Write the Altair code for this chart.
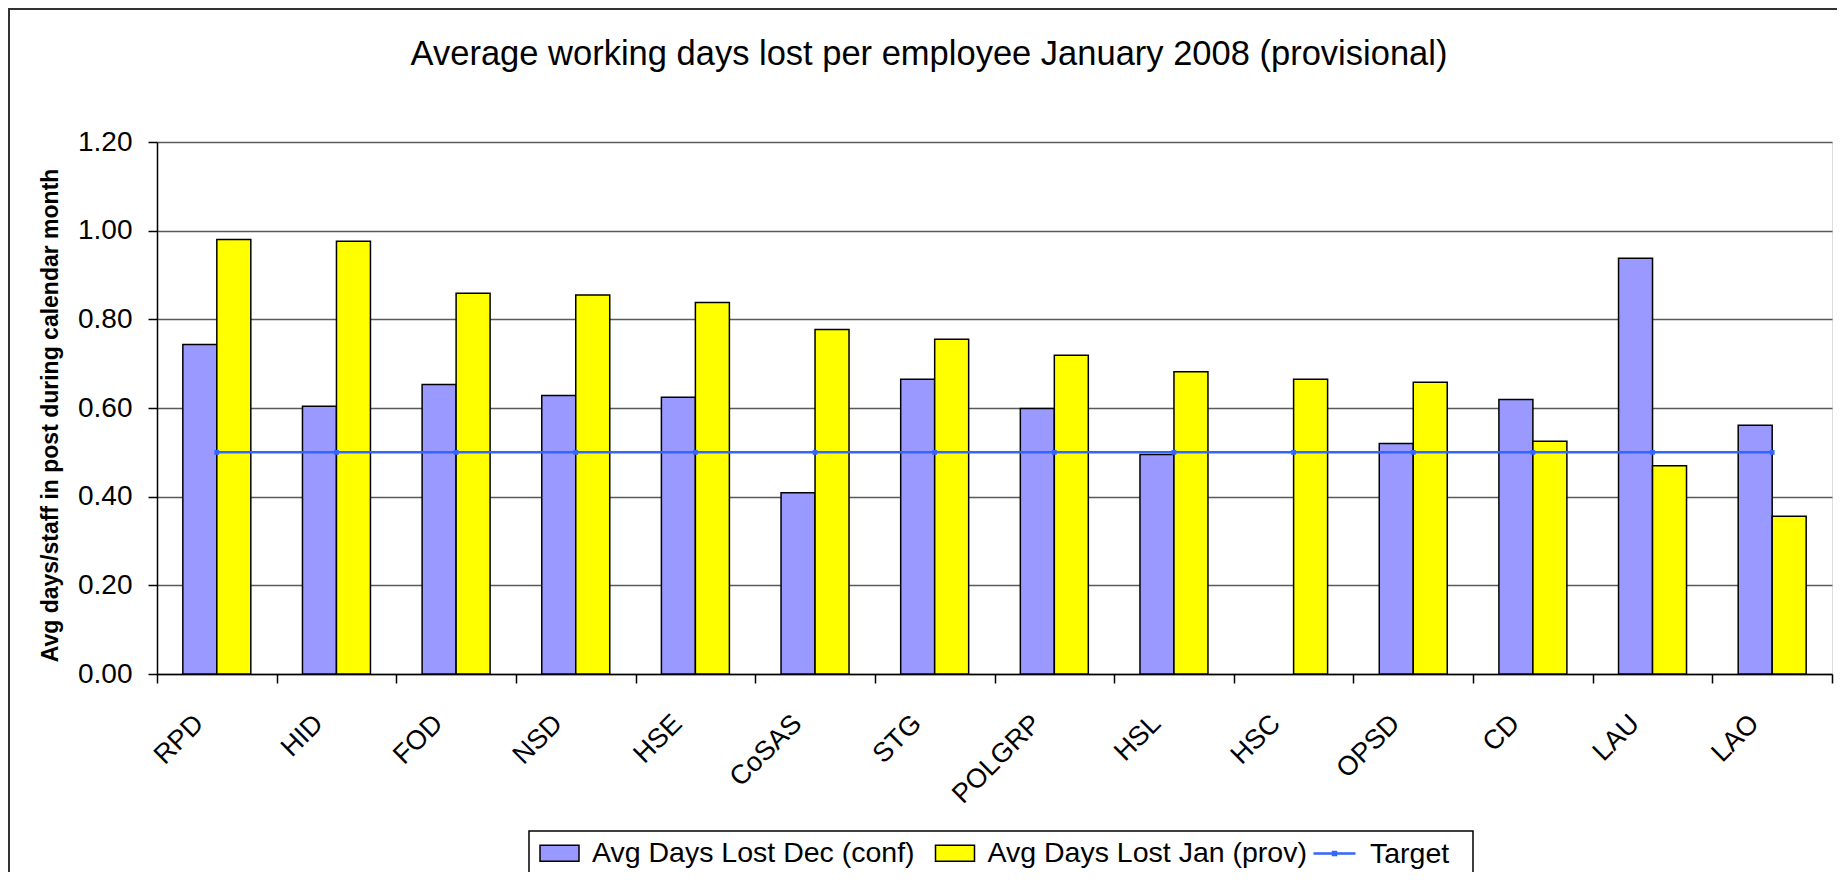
import altair as alt
import pandas as pd

categories = ["RPD", "HID", "FOD", "NSD", "HSE", "CoSAS", "STG", "POLGRP",
              "HSL", "HSC", "OPSD", "CD", "LAU", "LAO"]
dec_values = [0.743, 0.604, 0.653, 0.628, 0.624, 0.409, 0.665, 0.599,
              0.495, None, 0.520, 0.619, 0.938, 0.561]
jan_values = [0.980, 0.976, 0.859, 0.855, 0.838, 0.777, 0.755, 0.719,
              0.682, 0.665, 0.658, 0.525, 0.470, 0.356]
target_values = [0.50] * 14
series_names = ["Avg Days Lost Dec (conf)", "Avg Days Lost Jan (prov)", "Target"]
y_ticks = [0.0, 0.2, 0.4, 0.6, 0.8, 1.0, 1.2]

rows = []
for c, d, j in zip(categories, dec_values, jan_values):
    if d is not None:
        rows.append({"cat": c, "series": series_names[0], "value": d})
    rows.append({"cat": c, "series": series_names[1], "value": j})
bars_df = pd.DataFrame(rows)
target_df = pd.DataFrame({"cat": categories, "series": series_names[2], "value": target_values})
one_df = pd.DataFrame({"k": [0]})

FONT = "Liberation Sans"
W, H = 1675, 532

x_enc = alt.X("cat:N", sort=categories, title=None,
              scale=alt.Scale(paddingInner=0, paddingOuter=0),
              axis=alt.Axis(labelAngle=-45, labelAlign="right", labelBaseline="middle",
                            labelFontSize=27, labelFont=FONT, labelColor="black",
                            labelPadding=36, labelOffset=-18, tickSize=9, tickColor="black",
                            tickWidth=1.5, domainColor="black", domainWidth=1.5,
                            tickBand="extent", grid=False))
y_enc = alt.Y("value:Q", title="Avg days/staff in post during calendar month",
              scale=alt.Scale(domain=[0, 1.2], nice=False),
              axis=alt.Axis(values=y_ticks, format=".2f", labelFontSize=28, labelFont=FONT,
                            labelColor="black", labelPadding=16, tickSize=9, tickColor="black",
                            tickWidth=1.5, domainColor="black", domainWidth=1.5,
                            gridColor="#5a5a5a", gridWidth=1.3,
                            titleFont=FONT, titleFontSize=23, titleFontWeight="bold",
                            titleColor="black", titleAngle=-90, titleX=-100, titleY=273,
                            titleAlign="center", titleBaseline="alphabetic"))

bar_legend = alt.Legend(
    title=None, orient="none", legendX=381.5, legendY=690, direction="horizontal",
    labelFontSize=28.5, labelFont=FONT, labelColor="black", labelLimit=0,
    symbolType="M-1.3,-0.53H1.3V0.53H-1.3Z", symbolSize=900, symbolStrokeWidth=1.5,
    symbolStrokeColor="black", columnPadding=16.5, labelOffset=16.5, padding=5)

line_legend = alt.Legend(
    title=None, orient="none", legendX=1156, legendY=690, direction="horizontal",
    labelFontSize=28.5, labelFont=FONT, labelColor="black", labelLimit=0,
    symbolType="M-1.4,0H1.4M-0.1,-0.1H0.1V0.1H-0.1Z", symbolSize=900,
    symbolStrokeWidth=2.5, symbolFillColor="#3366FF", symbolStrokeColor="#3366FF",
    labelOffset=19, padding=5)

frame = alt.Chart(one_df).mark_rect(fill=None, stroke="#333333", strokeWidth=2).encode(
    x=alt.value(-148), x2=alt.value(1700), y=alt.value(-133), y2=alt.value(800))

legend_box = alt.Chart(one_df).mark_rect(fill="white", stroke="black", strokeWidth=1.5).encode(
    x=alt.value(372), x2=alt.value(1316), y=alt.value(689), y2=alt.value(731))

bars = alt.Chart(bars_df).mark_bar(stroke="black", strokeWidth=1.5).encode(
    x=x_enc, y=y_enc,
    xOffset=alt.XOffset("series:N", sort=series_names[:2],
                        scale=alt.Scale(domain=series_names[:2], paddingInner=0, paddingOuter=0.76)),
    fill=alt.Fill("series:N", legend=bar_legend,
                  scale=alt.Scale(domain=series_names[:2], range=["#9999FF", "#FFFF00"])))

line = alt.Chart(target_df).mark_line(
    strokeWidth=2.5,
    point=alt.OverlayMarkDef(shape="square", size=8, filled=True, color="#3366FF")).encode(
    x=x_enc, y=y_enc,
    stroke=alt.Stroke("series:N", legend=line_legend,
                      scale=alt.Scale(domain=series_names[2:], range=["#3366FF"])))

chart = alt.layer(frame, legend_box, bars, line).properties(
    width=W, height=H,
    title=alt.TitleParams("Average working days lost per employee January 2008 (provisional)",
                          font=FONT, fontSize=34.5, fontWeight="normal", color="black",
                          anchor="middle", frame="group", dx=-65.5, offset=-91,
                          baseline="alphabetic"),
    autosize="none",
    padding={"left": 149, "top": 134, "right": 5, "bottom": 198},
).configure_view(stroke="#888888", strokeWidth=1.5).configure(background="white")

chart.save("out.html", embed_options={"renderer": "svg", "actions": False})
